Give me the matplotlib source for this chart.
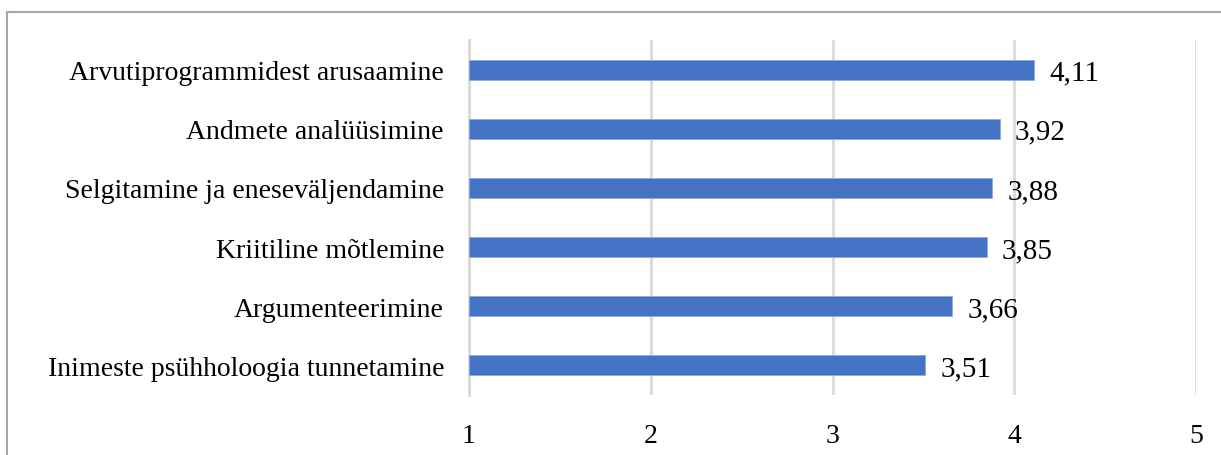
import matplotlib
matplotlib.use("Agg")
import matplotlib.pyplot as plt
from matplotlib.patches import Rectangle

categories = [
    "Arvutiprogrammidest arusaamine",
    "Andmete analüüsimine",
    "Selgitamine ja eneseväljendamine",
    "Kriitiline mõtlemine",
    "Argumenteerimine",
    "Inimeste psühholoogia tunnetamine",
]
values = [4.11, 3.92, 3.88, 3.85, 3.66, 3.51]
x_ticks = [1, 2, 3, 4, 5]

plt.rcParams["font.family"] = ["Liberation Serif", "DejaVu Serif"]

W, H = 1221, 456
fig = plt.figure(figsize=(W / 100, H / 100), dpi=100)
ax = fig.add_axes([469 / W, 1 - 396 / H, (1196 - 469) / W, (396 - 41) / H])

# outer chart frame (light grey, open at right and bottom)
fig.patches.append(Rectangle((7.5 / W, -0.1), 1.2, 1 - 12.5 / H + 0.1,
                             transform=fig.transFigure, fill=False,
                             edgecolor="#A6A6A6", linewidth=1.5))

ypos = list(range(len(categories)))[::-1]
ax.barh(ypos, [v - 1 for v in values], left=1, height=0.34,
        color="#4472C4", edgecolor="#8FAADC", linewidth=0.6, zorder=3)

for y, v in zip(ypos, values):
    ax.annotate(f"{v:.2f}".replace(".", ","), (v, y), xytext=(15, -3),
                textcoords="offset pixels", va="center", ha="left",
                fontsize=21, color="black")

ax.set_xlim(1, 5)
ax.set_ylim(-0.5, len(categories) - 0.5)
ax.set_xticks(x_ticks)
ax.set_xticklabels([str(t) for t in x_ticks], fontsize=20)
ax.set_yticks(ypos)
ax.set_yticklabels(categories, fontsize=20)
ax.tick_params(axis="both", length=0)
ax.tick_params(axis="y", pad=18)
ax.tick_params(axis="x", pad=20)
ax.grid(axis="x", color="#D9D9D9", linewidth=2, zorder=0)
for s in ["top", "right", "bottom"]:
    ax.spines[s].set_visible(False)
ax.spines["left"].set_color("#D9D9D9")
ax.spines["left"].set_linewidth(2)

fig.savefig("out.png", dpi=100)
